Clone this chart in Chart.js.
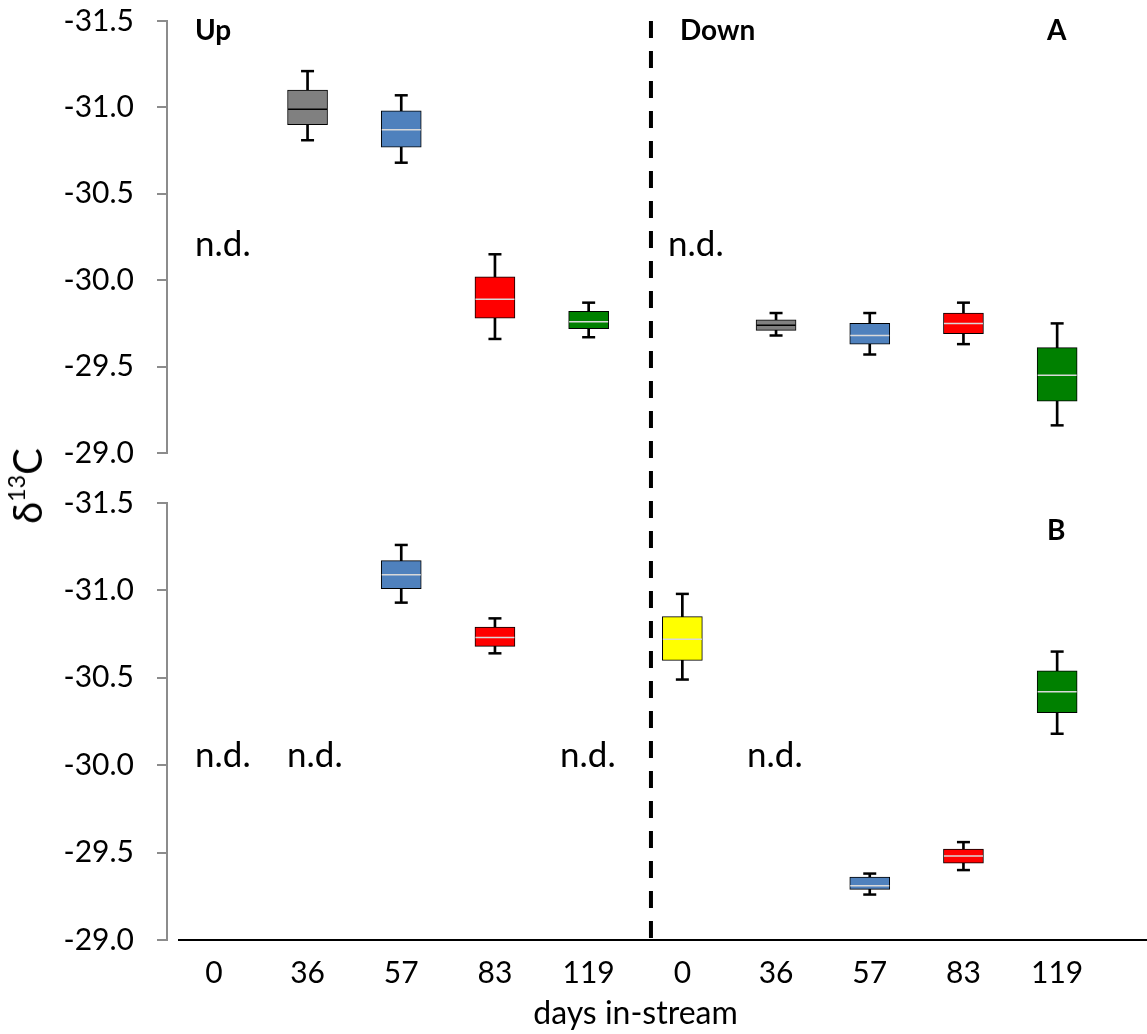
<!DOCTYPE html>
<html>
<head>
<meta charset="utf-8">
<script src="https://cdn.jsdelivr.net/npm/chart.js@4.4.1/dist/chart.umd.min.js"></script>
<style>
    html, body { margin: 0; padding: 0; background: #fff; }
    #page { position: relative; width: 1147px; height: 1034px; overflow: hidden; font-family: Lato, sans-serif; }
    canvas { position: absolute; left: 0; }
    #chart-a { top: 0; }
    #chart-b { top: 480px; }
    #y-title {
        position: absolute; left: 27px; top: 486px;
        transform: translate(-50%, -50%) rotate(-90deg);
        font-size: 40px; line-height: 1; white-space: nowrap; color: #000;
    }
    #y-title sup { font-size: 58%; vertical-align: 0.75em; line-height: 0; }
</style>
</head>
<body>
<div id="page">
    <canvas id="chart-a" width="1147" height="480"></canvas>
    <canvas id="chart-b" width="1147" height="554"></canvas>
    <div id="y-title">δ<sup>13</sup>C</div>
</div>
<script>
// --- Data ---
const DAYS = ['0', '36', '57', '83', '119', '0', '36', '57', '83', '119'];
const DAY_COLORS = ['#FFFF00', '#808080', '#4F81BD', '#FF0000', '#008000'];

// panel A (upper)
const A_MIN = [null, -31.21, -31.07, -30.15, -29.87, null, -29.81, -29.81, -29.87, -29.75];
const A_Q1  = [null, -31.10, -30.98, -30.02, -29.82, null, -29.77, -29.75, -29.81, -29.61];
const A_MED = [null, -30.99, -30.87, -29.89, -29.76, null, -29.74, -29.68, -29.75, -29.45];
const A_Q3  = [null, -30.90, -30.77, -29.78, -29.72, null, -29.71, -29.63, -29.69, -29.30];
const A_MAX = [null, -30.81, -30.68, -29.66, -29.67, null, -29.68, -29.57, -29.63, -29.16];

// panel B (lower)
const B_MIN = [null, null, -31.26, -30.84, null, -30.98, null, -29.38, -29.56, -30.65];
const B_Q1  = [null, null, -31.17, -30.79, null, -30.85, null, -29.36, -29.52, -30.54];
const B_MED = [null, null, -31.09, -30.73, null, -30.72, null, -29.31, -29.48, -30.42];
const B_Q3  = [null, null, -31.01, -30.68, null, -30.60, null, -29.29, -29.44, -30.30];
const B_MAX = [null, null, -30.93, -30.64, null, -30.49, null, -29.26, -29.40, -30.18];

const Y_MIN = -31.5;
const Y_MAX = -29.0;
const SPLIT_AT = 4.665; // Up | Down divider, in category units

Chart.defaults.font.family = 'Lato, sans-serif';
Chart.defaults.color = '#000';

const boxColors = DAYS.map((d, i) => DAY_COLORS[i % 5]);
const medianColors = DAYS.map((d, i) => (i % 5 === 1 ? '#000000' : '#d9d9d9'));

// --- Helpers ---
function pairs(lo, hi) {
    return lo.map((v, i) => (v === null ? null : [v, hi[i]]));
}

function notesPlugin(notes) {
    return {
        id: 'notes',
        afterDraw(chart) {
            const ctx = chart.ctx;
            ctx.save();
            ctx.fillStyle = '#000';
            ctx.textBaseline = 'middle';
            ctx.textAlign = 'left';
            notes.forEach(n => {
                ctx.font = (n.bold ? 'bold 28px ' : '35px ') + 'Lato, sans-serif';
                ctx.fillText(n.text, n.x, n.y);
            });
            ctx.restore();
        }
    };
}

function dividerPlugin(pageTop, fromTop, toBottom) {
    return {
        id: 'divider',
        afterDraw(chart) {
            const { ctx, chartArea, scales } = chart;
            const x = scales.x.getPixelForValue(SPLIT_AT);
            const y0 = fromTop ? chartArea.top : 0;
            const y1 = toBottom ? chartArea.bottom : chart.height;
            ctx.save();
            ctx.strokeStyle = '#000';
            ctx.lineWidth = 4;
            ctx.setLineDash([17, 13]);
            ctx.lineDashOffset = pageTop + y0 - 21;
            ctx.beginPath();
            ctx.moveTo(x, y0);
            ctx.lineTo(x, y1);
            ctx.stroke();
            ctx.restore();
        }
    };
}

const baselinePlugin = {
    id: 'baseline',
    afterDraw(chart) {
        const { ctx, chartArea } = chart;
        ctx.save();
        ctx.strokeStyle = '#000';
        ctx.lineWidth = 2;
        ctx.beginPath();
        ctx.moveTo(chartArea.left + 11, chartArea.bottom);
        ctx.lineTo(chart.width, chartArea.bottom);
        ctx.stroke();
        ctx.restore();
    }
};

function buildChart(id, s, opts) {
    const pointSet = (data, radius, color, width, order) => ({
        type: 'line',
        data,
        showLine: false,
        pointStyle: 'line',
        pointRadius: radius,
        pointHoverRadius: radius,
        pointBorderWidth: width,
        pointBorderColor: color,
        borderColor: color,
        order,
    });

    return new Chart(document.getElementById(id), {
        type: 'bar',
        data: {
            labels: DAYS,
            datasets: [
                // whiskers
                {
                    data: pairs(s.min, s.max),
                    backgroundColor: '#000',
                    barThickness: 2,
                    grouped: false,
                    order: 4,
                },
                // boxes
                {
                    data: pairs(s.q1, s.q3),
                    backgroundColor: boxColors,
                    borderColor: '#000',
                    borderWidth: 1,
                    borderSkipped: false,
                    barThickness: 40,
                    grouped: false,
                    order: 3,
                },
                pointSet(s.min, 6.5, '#000', 2.5, 2),
                pointSet(s.max, 6.5, '#000', 2.5, 2),
                pointSet(s.med, 19.5, medianColors, 1.5, 1),
            ]
        },
        options: {
            responsive: false,
            animation: false,
            events: [],
            layout: { padding: opts.padding },
            plugins: { legend: { display: false }, tooltip: { enabled: false } },
            scales: {
                x: {
                    display: opts.showX,
                    offset: true,
                    grid: { display: false, drawTicks: false },
                    border: { display: false },
                    ticks: { font: { size: 30 }, padding: 15, maxRotation: 0, autoSkip: false },
                    title: {
                        display: true,
                        text: 'days in-stream',
                        font: { size: 32 },
                        padding: { top: 0, bottom: 1 },
                    },
                    afterFit: sc => {
                        sc.height = opts.showX ? 94 : 0;
                        sc.paddingLeft = 0;
                        sc.paddingRight = 0;
                    },
                },
                y: {
                    reverse: true,
                    min: Y_MIN,
                    max: Y_MAX,
                    grid: { drawOnChartArea: false, drawTicks: true, tickLength: 10, color: '#8c8c8c', lineWidth: 2 },
                    border: { display: true, color: '#8c8c8c', width: 2 },
                    ticks: {
                        stepSize: 0.5,
                        padding: 23,
                        font: { size: 30 },
                        callback: v => Number(v).toFixed(1),
                    },
                    afterFit: sc => {
                        sc.width = 167;
                        sc.paddingTop = 0;
                        sc.paddingBottom = 0;
                    },
                }
            }
        },
        plugins: opts.plugins,
    });
}

// --- Panel A ---
buildChart('chart-a', { min: A_MIN, q1: A_Q1, med: A_MED, q3: A_Q3, max: A_MAX }, {
    showX: false,
    padding: { top: 21, bottom: 27, left: 0, right: 43 },
    plugins: [
        dividerPlugin(0, true, false),
        notesPlugin([
            { text: 'Up', x: 195, y: 31, bold: true },
            { text: 'Down', x: 680, y: 31, bold: true },
            { text: 'A', x: 1047, y: 31, bold: true },
            { text: 'n.d.', x: 195, y: 245 },
            { text: 'n.d.', x: 668, y: 245 },
        ]),
    ],
});

// --- Panel B ---
buildChart('chart-b', { min: B_MIN, q1: B_Q1, med: B_MED, q3: B_Q3, max: B_MAX }, {
    showX: true,
    padding: { top: 23, bottom: 0, left: 0, right: 43 },
    plugins: [
        dividerPlugin(480, false, true),
        baselinePlugin,
        notesPlugin([
            { text: 'B', x: 1047, y: 51, bold: true },
            { text: 'n.d.', x: 195, y: 276 },
            { text: 'n.d.', x: 287, y: 276 },
            { text: 'n.d.', x: 560, y: 276 },
            { text: 'n.d.', x: 747, y: 276 },
        ]),
    ],
});
</script>
</body>
</html>
